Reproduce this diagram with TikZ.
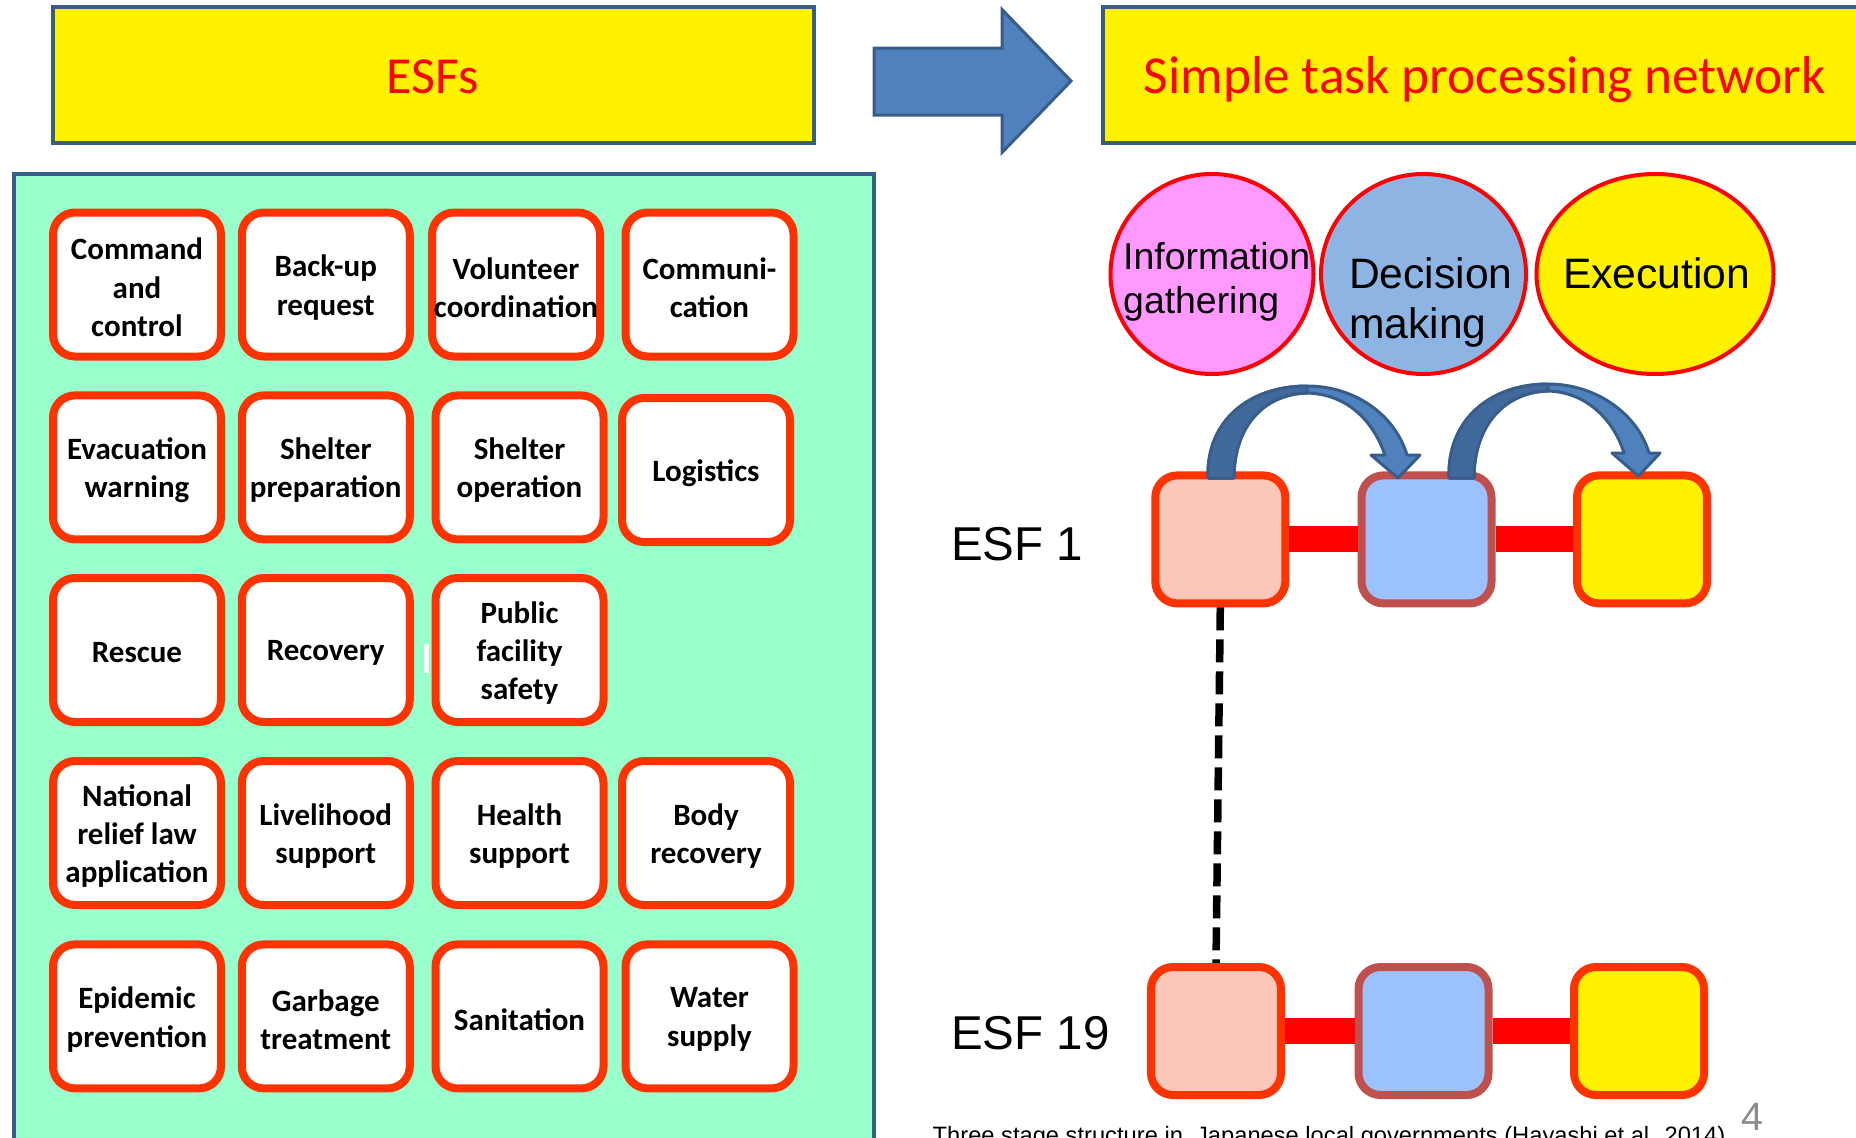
\documentclass[tikz,border=0pt]{standalone}
\usepackage{fontspec}
\setmainfont{Carlito}
\newfontfamily\arialfont{Liberation Sans}
\usetikzlibrary{shapes.geometric}
\definecolor{frameblue}{HTML}{385D8A}
\definecolor{arrowblue}{HTML}{4F81BD}
\definecolor{arrowdark}{HTML}{41699B}
\definecolor{panelgreen}{HTML}{99FFCC}
\definecolor{boxred}{HTML}{FF3300}
\definecolor{brownred}{HTML}{C0504D}
\definecolor{salmon}{HTML}{FCC7B8}
\definecolor{paleblue}{HTML}{9BC2FF}
\definecolor{infopink}{HTML}{FF99FF}
\definecolor{decblue}{HTML}{8EB4E3}
\definecolor{pagegray}{HTML}{8C8C8C}
% one ESF card: an empty rounded box plus its centred caption
\newcommand\esfcard[3]{%
  \node[esf] (#1) at (#2) {};
  \node[esftext] (#1-t) at (#1.center) {#3};}
\begin{document}
\begin{tikzpicture}[x=1pt,y=-1pt,
  title/.style={draw=frameblue, line width=4pt, fill=yellow},
  titletext/.style={anchor=base, inner sep=0pt, text=red},
  esf/.style={draw=boxred, line width=8pt, fill=white, rounded corners=22pt,
    minimum width=168pt, minimum height=144pt, inner sep=0pt},
  esftext/.style={inner sep=0pt, align=center, yshift=-3pt,
    font=\bfseries\fontsize{31}{38.3}\selectfont},
  stagebox/.style={line width=8pt, rounded corners=22pt, minimum width=130pt,
    minimum height=128pt, inner sep=0pt},
  gathering/.style={stagebox, draw=boxred, fill=salmon},
  deciding/.style={stagebox, draw=brownred, fill=paleblue},
  executing/.style={stagebox, draw=boxred, fill=yellow},
  bar/.style={draw=red, line width=26pt},
  stage/.style={ellipse, draw=red, line width=4pt, inner sep=0pt, minimum height=200pt},
  label/.style={anchor=base west, inner sep=0pt, font=\arialfont},
  ribbon/.style={draw=frameblue, line width=3pt, line join=round},
]
\clip (0,0) rectangle (1856,1138);
\fill[white] (0,0) rectangle (1856,1138);

% ---- left column: the ESF panel ----
\draw[title] (52.5,7) rectangle (814,143);
\node[titletext, font=\fontsize{52}{62}\selectfont] (esftitle) at (433,93) {ESFs};

\draw[draw=frameblue, line width=4pt, fill=panelgreen] (13.5,174) rectangle (873.5,1160);

\esfcard{cmd}{137,284.5}{Command\\and\\control}
\esfcard{bkup}{325.75,284.5}{Back-up\\request}
\esfcard{vol}{516,284.5}{Volunteer\\coordination}
\esfcard{comm}{709.5,284.5}{Communi-\\cation}

\esfcard{evac}{137,467.4}{Evacuation\\warning}
\esfcard{sprep}{325.75,467.4}{Shelter\\preparation}
\esfcard{sop}{519.5,467.4}{Shelter\\operation}
\esfcard{logi}{706,470}{Logistics}

\esfcard{resc}{137,650}{Rescue}
\esfcard{reco}{325.75,650}{Recovery}
\esfcard{pub}{519.5,650}{Public\\facility\\safety}
\fill[white] (424,644) rectangle (429,673);

\esfcard{nat}{137,833}{National\\relief law\\application}
\esfcard{live}{325.75,833}{Livelihood\\support}
\esfcard{hlth}{519.5,833}{Health\\support}
\esfcard{body}{706,833}{Body\\recovery}

\esfcard{epi}{137,1016.4}{Epidemic\\prevention}
\esfcard{garb}{325.75,1016.4}{Garbage\\treatment}
\esfcard{sani}{519.5,1016.4}{Sanitation}
\esfcard{wat}{709.5,1016.4}{Water\\supply}

% ---- block arrow between the two titles ----
\draw[draw=frameblue, line width=3pt, fill=arrowblue, line join=miter]
  (874,48) -- (1002,48) -- (1002,9.5) -- (1071,81) -- (1002,152.5)
  -- (1002,115) -- (874,115) -- cycle;

% ---- right column: task processing network ----
\draw[title] (1103,7) rectangle (1866,143);
\node[titletext, font=\fontsize{53.4}{64}\selectfont] (nettitle) at (1484.5,93) {Simple task processing network};

\node[stage, fill=infopink, minimum width=203pt] (info) at (1212,274) {};
\node[stage, fill=decblue, minimum width=205pt] (dec) at (1423.5,274) {};
\node[stage, fill=yellow, minimum width=237pt] (exe) at (1655,274) {};
\node[label, font=\arialfont\fontsize{37.4}{44}\selectfont] (infoa) at (1123,269.5) {Information};
\node[label, font=\arialfont\fontsize{37.4}{44}\selectfont] (infob) at (1123,313) {gathering};
\node[label, font=\arialfont\fontsize{42.6}{50}\selectfont] (deca) at (1349,288) {Decision};
\node[label, font=\arialfont\fontsize{42.6}{50}\selectfont] (decb) at (1349,338) {making};
\node[label, font=\arialfont\fontsize{42.6}{50}\selectfont] (exea) at (1563,288) {Execution};

% first ESF chain
\node[gathering] (a1) at (1220.3,539.4) {};
\node[deciding]  (a2) at (1426.5,539.4) {};
\node[executing] (a3) at (1642,539.4) {};
\draw[bar] (a1.east) -- (a2.west);
\draw[bar] (a2.east) -- (a3.west);
\node[label, font=\arialfont\fontsize{47.5}{56}\selectfont] (esf1) at (951,560) {ESF 1};

% last ESF chain
\node[gathering] (z1) at (1216,1031) {};
\node[deciding]  (z2) at (1423.5,1031) {};
\node[executing] (z3) at (1639,1031) {};
\draw[bar] (z1.east) -- (z2.west);
\draw[bar] (z2.east) -- (z3.west);
\node[label, font=\arialfont\fontsize{47.5}{56}\selectfont] (esf19) at (951,1049) {ESF 19};

\draw[line width=7.5pt, dash pattern=on 23pt off 9pt] (a1.south) -- (z1.north);

% curved hand-over arrows
\draw[ribbon, fill=arrowblue]
  (1208,478) .. controls (1206,420) and (1250,386) .. (1307,386)
  .. controls (1355,386) and (1395,415) .. (1407,455)
  -- (1420,455) -- (1398,478) -- (1371,455) -- (1385,455)
  .. controls (1372,418) and (1345,394) .. (1307,393)
  .. controls (1265,394) and (1234,425) .. (1234,478) -- cycle;
\draw[ribbon, fill=arrowdark]
  (1208,478) .. controls (1206,420) and (1250,386) .. (1307,386)
  -- (1307,393) .. controls (1265,394) and (1234,425) .. (1234,478) -- cycle;

\draw[ribbon, fill=arrowblue]
  (1449,478) .. controls (1447,420) and (1490,384) .. (1548,384)
  .. controls (1597,384) and (1638,415) .. (1649,453)
  -- (1660,453) -- (1638.5,476) -- (1612,453) -- (1624,453)
  .. controls (1613,418) and (1585,392) .. (1548,391)
  .. controls (1505,392) and (1474,425) .. (1474,478) -- cycle;
\draw[ribbon, fill=arrowdark]
  (1449,478) .. controls (1447,420) and (1490,384) .. (1548,384)
  -- (1548,391) .. controls (1505,392) and (1474,425) .. (1474,478) -- cycle;

% footer
\node[label, font=\arialfont\fontsize{23.7}{28}\selectfont] (cap) at (932.5,1143.5)
  {Three stage structure in\ \ Japanese local governments (Hayashi et al. 2014)};
\node[label, text=pagegray, font=\arialfont\fontsize{39.5}{47}\selectfont] (pg) at (1741,1130) {4};
\end{tikzpicture}
\end{document}
